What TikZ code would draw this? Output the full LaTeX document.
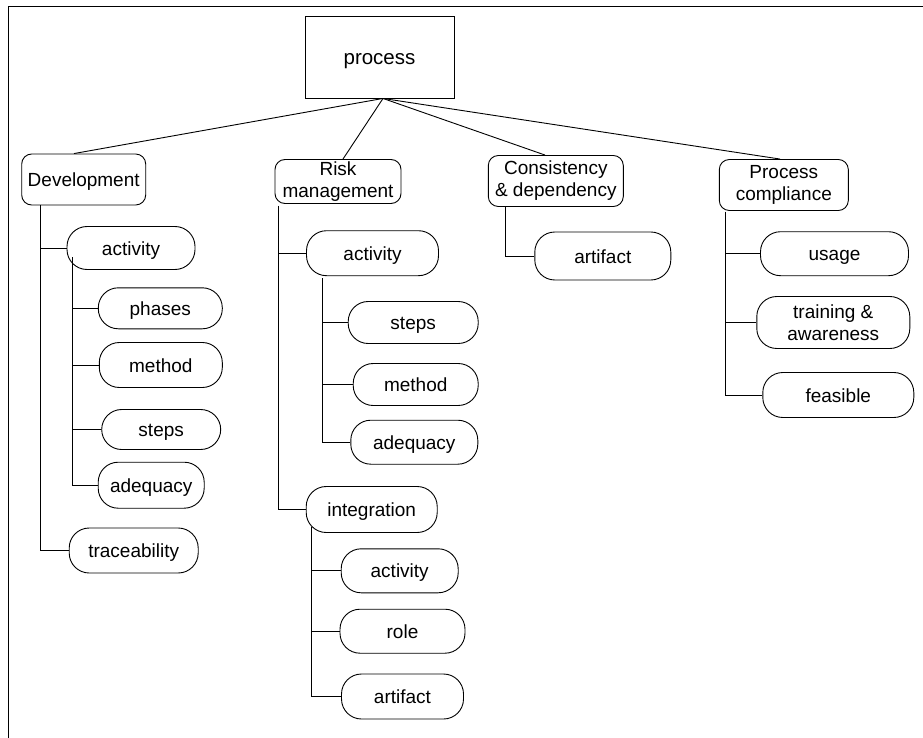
\documentclass[tikz,border=0pt]{standalone}
\usepackage{fontspec}
\setmainfont{Liberation Sans}
\usetikzlibrary{calc}

\tikzset{
  conn/.style={draw=black, line width=0.9pt},
  base/.style={draw=black, line width=0.9pt, inner sep=0pt,
    text height=15pt, text depth=1pt,
    font=\fontsize{19}{22}\selectfont},
  rootbox/.style={base, rectangle, text height=16pt, text depth=1pt,
    font=\fontsize{20.5}{24}\selectfont},
  catbox/.style={base, rounded corners=10pt},
  pill/.style={base, rounded corners=20pt},
  twoline/.style={align=center, text height=, text depth=},
}

\begin{document}
\begin{tikzpicture}[x=1pt, y=-1pt]
  \useasboundingbox (0,0) rectangle (923,738);

  % frame
  \draw[conn] (8,738) -- (8,6.5) -- (923,6.5);

  % root
  \node[rootbox, minimum width=149pt, minimum height=82pt] (process) at (379.5,57) {process};

  % categories
  \node[catbox, minimum width=124pt, minimum height=51pt] (dev)  at (83.7,179.5) {Development};
  \node[catbox, twoline, minimum width=126pt, minimum height=44pt] (risk) at (338,181.5) {Risk\\management};
  \node[catbox, twoline, minimum width=135pt, minimum height=51pt] (cons) at (555.8,181) {Consistency\\\& dependency};
  \node[catbox, twoline, minimum width=129pt, minimum height=51pt] (comp) at (783.8,185) {Process\\compliance};

  % Development subtree
  \node[pill, minimum width=128pt, minimum height=43pt] (dact)    at (131,248) {activity};
  \node[pill, minimum width=124pt, minimum height=41pt] (dphases) at (160.3,308.3) {phases};
  \node[pill, minimum width=123pt, minimum height=45pt] (dmethod) at (160.8,365) {method};
  \node[pill, minimum width=119pt, minimum height=40pt] (dsteps)  at (161.2,429.5) {steps};
  \node[pill, minimum width=106pt, minimum height=46pt] (dadeq)   at (151.2,485.2) {adequacy};
  \node[pill, minimum width=129pt, minimum height=45pt] (dtrace)  at (133.7,550.5) {traceability};

  % Risk management subtree
  \node[pill, minimum width=132pt, minimum height=45pt] (ract)    at (372.5,253.2) {activity};
  \node[pill, minimum width=130pt, minimum height=42pt] (rsteps)  at (413.2,322.5) {steps};
  \node[pill, minimum width=125pt, minimum height=42pt] (rmethod) at (415.7,384.5) {method};
  \node[pill, minimum width=127pt, minimum height=44pt] (radeq)   at (414.3,442.2) {adequacy};
  \node[pill, minimum width=131pt, minimum height=46pt] (rint)    at (371.7,509.5) {integration};
  \node[pill, minimum width=117pt, minimum height=44pt] (iact)    at (399.7,570.8) {activity};
  \node[pill, minimum width=125pt, minimum height=44pt] (irole)   at (402.5,631.2) {role};
  \node[pill, minimum width=122pt, minimum height=45pt] (iart)    at (402.5,696.5) {artifact};

  % Consistency subtree
  \node[pill, minimum width=136pt, minimum height=48pt] (cart) at (602.8,256) {artifact};

  % Compliance subtree
  \node[pill, minimum width=148pt, minimum height=44pt] (usage) at (834.5,253.7) {usage};
  \node[pill, twoline, minimum width=153pt, minimum height=52pt] (train) at (833.3,322.5) {training \&\\awareness};
  \node[pill, minimum width=151pt, minimum height=45pt] (feas)  at (838.3,395) {feasible};

  % root to categories
  \coordinate (hub) at ([xshift=3.5pt]process.south);
  \draw[conn] (hub) -- ([xshift=-9.7pt]dev.north);
  \draw[conn] (hub) -- ([xshift=5pt]risk.north);
  \draw[conn] (hub) -- ([xshift=-10.8pt]cons.north);
  \draw[conn] (hub) -- ([xshift=-3.8pt]comp.north);

  % Development branches
  \coordinate (devT) at ([xshift=19.3pt]dev.south west);
  \draw[conn] (devT) |- (dact.west);
  \draw[conn] (devT) |- (dtrace.west);
  \coordinate (dactT) at ([xshift=5.6pt,yshift=-9pt]dact.west);
  \draw[conn] (dactT) |- (dphases.west);
  \draw[conn] (dactT) |- (dmethod.west);
  \draw[conn] (dactT) |- (dsteps.west);
  \draw[conn] (dactT) |- (dadeq.west);

  % Risk management branches
  \coordinate (riskT) at ([xshift=4.3pt,yshift=-2pt]risk.south west);
  \draw[conn] (riskT) |- (ract.west);
  \draw[conn] (riskT) |- (rint.west);
  \coordinate (ractT) at ([xshift=16pt,yshift=-2pt]ract.south west);
  \draw[conn] (ractT) |- (rsteps.west);
  \draw[conn] (ractT) |- (rmethod.west);
  \draw[conn] (ractT) |- (radeq.west);
  \coordinate (rintT) at ([xshift=5.7pt,yshift=-17pt]rint.west);
  \draw[conn] (rintT) |- (iact.west);
  \draw[conn] (rintT) |- (irole.west);
  \draw[conn] (rintT) |- (iart.west);

  % Consistency branch
  \coordinate (consT) at ([xshift=17.4pt]cons.south west);
  \draw[conn] (consT) |- (cart.west);

  % Compliance branches
  \coordinate (compT) at ([xshift=6.4pt,yshift=-1pt]comp.south west);
  \draw[conn] (compT) |- (usage.west);
  \draw[conn] (compT) |- (train.west);
  \draw[conn] (compT) |- (feas.west);
\end{tikzpicture}
\end{document}
